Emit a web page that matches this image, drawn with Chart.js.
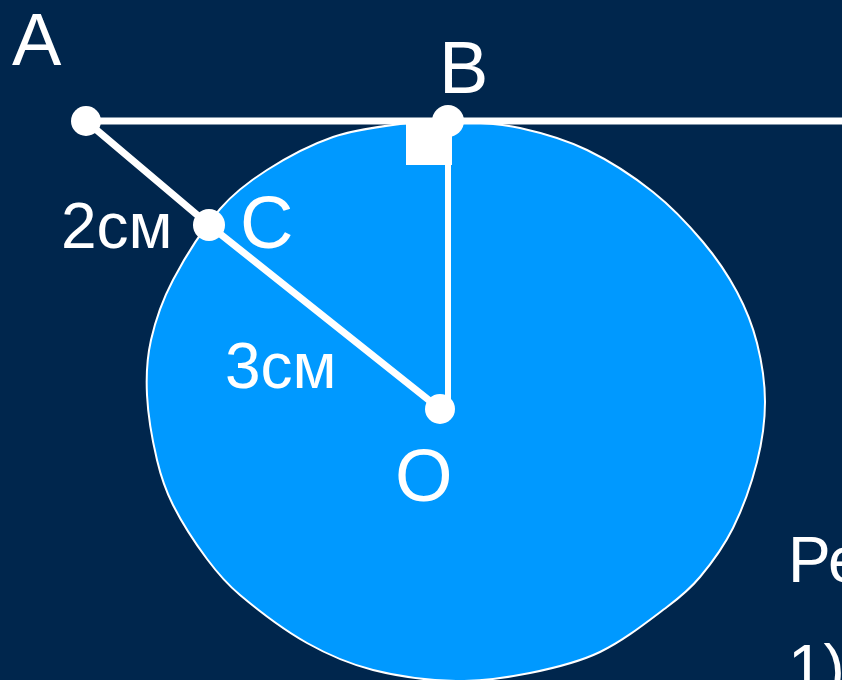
<!DOCTYPE html>
<html>
<head>
<meta charset="utf-8">
<style>
  html, body { margin: 0; padding: 0; background: #00264d; overflow: hidden; }
  canvas { display: block; }
</style>
<script src="https://cdn.jsdelivr.net/npm/chart.js@4"></script>
</head>
<body>
<canvas id="figura" width="842" height="680"></canvas>
<script>
// circle outline
var circuloX = [456, 520, 587, 653, 703, 737, 757, 765, 757, 733, 700, 667, 600, 530, 456, 373, 307, 240, 207, 173, 157, 147, 151, 173, 220, 267, 333, 400, 456];
var circuloY = [121, 128, 150, 192, 242, 292, 343, 402, 462, 528, 577, 607, 652, 673, 681, 670, 643, 595, 559, 505, 460, 395, 340, 280, 209, 170, 137, 124, 121];

// tangent, segments and right angle mark
var tangenteX = [86, 842];
var tangenteY = [121, 121];
var segmentoX = [86, 209, 440];
var segmentoY = [121, 225, 409];
var radioX = [448, 448];
var radioY = [121, 409];
var cuadroX = [406, 452, 452, 406, 406];
var cuadroY = [121, 121, 165, 165, 121];

// marked points
var puntosX = [86, 448, 209, 440];
var puntosY = [121, 121, 225, 409];
var puntosR = [15, 16, 16, 15];

// text
var letras = ["A", "B", "C", "O"];
var letrasX = [12, 439, 240, 395];
var letrasY = [65, 93, 248, 501];
var medidas = ["2см", "3см", "Ре", "1)"];
var medidasX = [61, 225, 788, 788];
var medidasY = [248, 388, 582, 690];

function pares(xs, ys) {
  return xs.map(function (x, i) {
    return { x: x, y: ys[i] };
  });
}

function linea(xs, ys, ancho, orden) {
  return {
    data: pares(xs, ys),
    borderColor: "#ffffff",
    borderWidth: ancho,
    pointRadius: 0,
    showLine: true,
    order: orden,
  };
}

var textos = {
  id: "textos",
  afterDatasetsDraw: function (chart) {
    var c = chart.ctx;
    c.save();
    c.fillStyle = "#ffffff";
    c.textBaseline = "alphabetic";
    c.textAlign = "left";
    c.font = '74px "Liberation Sans"';
    letras.forEach(function (t, i) {
      c.fillText(t, chart.scales.x.getPixelForValue(letrasX[i]), chart.scales.y.getPixelForValue(letrasY[i]));
    });
    c.font = '64px "Liberation Sans"';
    medidas.forEach(function (t, i) {
      c.fillText(t, chart.scales.x.getPixelForValue(medidasX[i]), chart.scales.y.getPixelForValue(medidasY[i]));
    });
    c.restore();
  },
};

new Chart(document.getElementById("figura"), {
  type: "scatter",
  data: {
    datasets: [
      {
        data: pares(circuloX, circuloY),
        showLine: true,
        tension: 0.33,
        borderColor: "#ffffff",
        borderWidth: 2,
        backgroundColor: "#0099ff",
        fill: "shape",
        pointRadius: 0,
        order: 5,
      },
      {
        data: pares(cuadroX, cuadroY),
        showLine: true,
        borderColor: "#ffffff",
        borderWidth: 0,
        backgroundColor: "#ffffff",
        fill: "shape",
        pointRadius: 0,
        order: 4,
      },
      linea(tangenteX, tangenteY, 7, 3),
      linea(segmentoX, segmentoY, 7, 3),
      linea(radioX, radioY, 6, 3),
      {
        data: pares(puntosX, puntosY),
        pointRadius: puntosR,
        pointBackgroundColor: "#ffffff",
        pointBorderWidth: 0,
        order: 1,
      },
    ],
  },
  options: {
    responsive: false,
    animation: false,
    devicePixelRatio: 1,
    layout: { padding: 0, autoPadding: false },
    plugins: { legend: { display: false }, tooltip: { enabled: false }, title: { display: false } },
    scales: {
      x: { type: "linear", display: false, min: 0, max: 842 },
      y: { type: "linear", display: false, min: 0, max: 680, reverse: true },
    },
  },
  plugins: [textos],
});
</script>
</body>
</html>
